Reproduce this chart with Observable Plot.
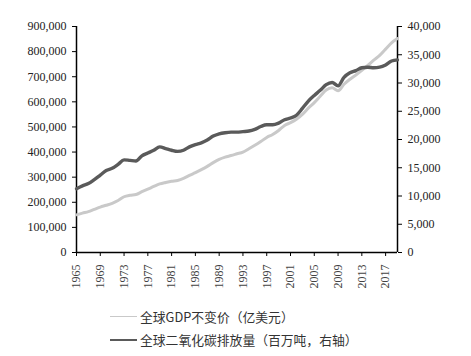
<!DOCTYPE html>
<html><head><meta charset="utf-8">
<script src="https://cdn.jsdelivr.net/npm/d3@7"></script>
<script src="https://cdn.jsdelivr.net/npm/@observablehq/plot@0.6"></script>
<style>
body{margin:0;background:#fff;}
#chart svg, #chart svg text{font-family:"Liberation Serif","Times New Roman",serif !important;font-size:12px !important;}
#legend{font-family:"Noto Sans CJK SC","Noto Sans",sans-serif;font-size:12.8px;color:#333;padding-top:5px;}
.row{display:flex;align-items:center;height:23px;padding-left:110px;}
.sw{width:27px;margin-right:3px;}
</style>
</head><body>
<div id="chart"></div>
<div id="legend"></div>
<script>
const years = [1965,1966,1967,1968,1969,1970,1971,1972,1973,1974,1975,1976,1977,1978,1979,1980,1981,1982,1983,1984,1985,1986,1987,1988,1989,1990,1991,1992,1993,1994,1995,1996,1997,1998,1999,2000,2001,2002,2003,2004,2005,2006,2007,2008,2009,2010,2011,2012,2013,2014,2015,2016,2017,2018,2019];
const gdp = [150000,157000,163000,172000,181000,188000,196000,207000,222000,228000,231000,242000,252000,263000,273000,279000,284000,287000,295000,307000,318000,330000,343000,358000,371000,380000,386000,393000,400000,413000,427000,442000,458000,470000,486000,506000,517000,531000,550000,575000,597000,622000,647000,656000,644000,670000,690000,707000,725000,745000,766000,785000,810000,835000,852000];
const co2 = [11300,11800,12200,12900,13700,14500,14900,15600,16400,16300,16200,17100,17600,18100,18700,18400,18100,17900,18100,18700,19100,19400,19900,20600,21000,21200,21300,21300,21400,21500,21800,22300,22600,22600,22900,23500,23800,24300,25500,26800,27800,28700,29700,30100,29500,31000,31800,32200,32700,32800,32700,32800,33200,33900,34100];
const xTicks = [1965,1969,1973,1977,1981,1985,1989,1993,1997,2001,2005,2009,2013,2017];
const leftTicks = [0,100000,200000,300000,400000,500000,600000,700000,800000,900000];
const rightTicks = [0,5000,10000,15000,20000,25000,30000,35000,40000];
const seriesNames = ["全球GDP不变价（亿美元）","全球二氧化碳排放量（百万吨，右轴）"];
const colors = ["#c9c9c9","#5a5a5a"];

const ratio = 900000/40000;
const fmt = d3.format(",");
const gdpData = years.map((y,i)=>({year:y, v:gdp[i]}));
const co2Data = years.map((y,i)=>({year:y, v:co2[i]}));

const plot = Plot.plot({
  width: 471, height: 300,
  marginLeft: 76, marginRight: 74, marginTop: 26, marginBottom: 48,
  style: {color: "#333", background: "#fff"},
  x: {domain: [1965, 2019]},
  y: {domain: [0, 900000]},
  marks: [
    Plot.axisY({anchor: "left", ticks: leftTicks, tickFormat: fmt, tickSize: 4, tickPadding: 6, label: null, stroke: "#000", fill: "#222"}),
    Plot.axisY({anchor: "right", ticks: rightTicks.map(v => v*ratio), tickFormat: d => fmt(Math.round(d/ratio)), tickSize: 4, tickPadding: 6, label: null, stroke: "#000", fill: "#222"}),
    Plot.axisX({ticks: xTicks, tickFormat: d => String(d), tickRotate: -90, tickSize: 4, tickPadding: 8, label: null, stroke: "#000", fill: "#444"}),
    Plot.ruleX([1965], {stroke: "#000", strokeWidth: 1.5}),
    Plot.ruleX([2019], {stroke: "#000", strokeWidth: 1.5}),
    Plot.ruleY([0], {stroke: "#000", strokeWidth: 1.5}),
    Plot.lineY(gdpData, {x: "year", y: "v", stroke: colors[0], strokeWidth: 3, curve: "monotone-x"}),
    Plot.lineY(co2Data, {x: "year", y: d => d.v*ratio, stroke: colors[1], strokeWidth: 3.4, curve: "monotone-x"})
  ]
});
document.getElementById("chart").appendChild(plot);

const lg = document.getElementById("legend");
seriesNames.forEach((n,i)=>{
  const r = document.createElement("div"); r.className="row";
  const s = document.createElement("div"); s.className="sw";
  s.style.borderTop = (i===0?1.5:2.5)+"px solid "+colors[i];
  const t = document.createElement("span"); t.textContent = n;
  r.appendChild(s); r.appendChild(t); lg.appendChild(r);
});
</script>
</body></html>
